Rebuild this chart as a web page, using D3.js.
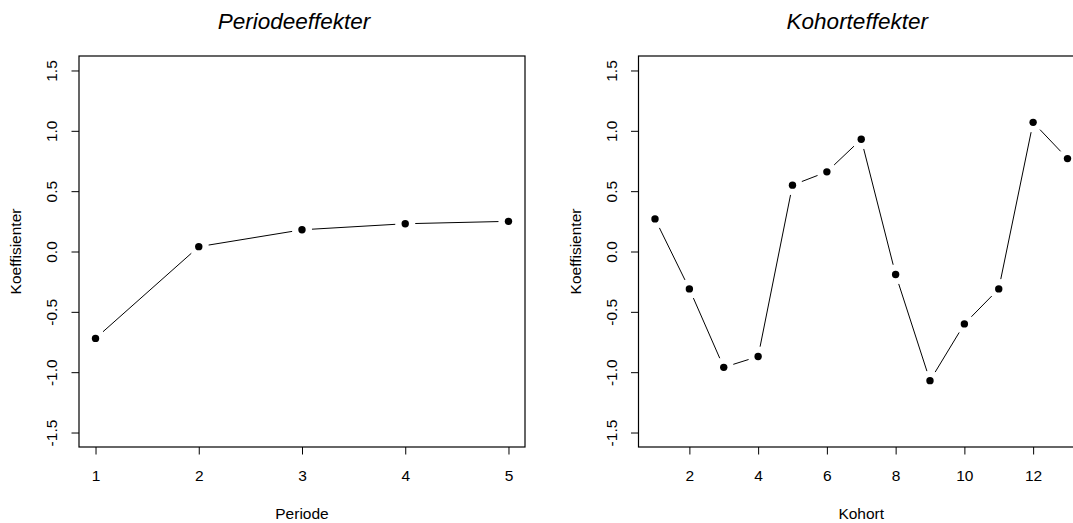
<!DOCTYPE html>
<html>
<head>
<meta charset="utf-8">
<script src="https://cdn.jsdelivr.net/npm/d3@7"></script>
<style>
  html, body { margin: 0; padding: 0; background: #fff; }
  svg { display: block; font-family: "Liberation Sans", Arial, Helvetica, sans-serif; }
</style>
</head>
<body>
<svg id="chart" width="1073" height="523"></svg>
<script>
// ---- data ----
const periods = [1, 2, 3, 4, 5];
const periodValues = [-0.72, 0.04, 0.18, 0.23, 0.25];
const cohorts = [1, 2, 3, 4, 5, 6, 7, 8, 9, 10, 11, 12, 13];
const cohortValues = [0.27, -0.31, -0.96, -0.87, 0.55, 0.66, 0.93, -0.19, -1.07, -0.60, -0.31, 1.07, 0.77];
const yTicks = [-1.5, -1.0, -0.5, 0.0, 0.5, 1.0, 1.5];
const yTickLabels = ["-1.5", "-1.0", "-0.5", "0.0", "0.5", "1.0", "1.5"];
const periodTicks = [1, 2, 3, 4, 5];
const cohortTicks = [2, 4, 6, 8, 10, 12];
const titles = ["Periodeeffekter", "Kohorteffekter"];
const xLabels = ["Periode", "Kohort"];
const yLabel = "Koeffisienter";

(function () {
const svg = d3.select("#chart");
const plotTop = 56, plotBottom = 447;
const yDomain = [-1.62, 1.62];

const panels = [
  { xs: periods, ys: periodValues, xDomain: [0.84, 5.16], range: [79, 525], ticks: periodTicks, title: titles[0], xlab: xLabels[0], titleShift: -8 },
  { xs: cohorts, ys: cohortValues, xDomain: [0.52, 13.48], range: [638.5, 1084], ticks: cohortTicks, title: titles[1], xlab: xLabels[1], titleShift: -4 }
];

panels.forEach(p => {
  const x = d3.scaleLinear().domain(p.xDomain).range(p.range);
  const y = d3.scaleLinear().domain(yDomain).range([plotBottom, plotTop]);
  const g = svg.append("g");
  const left = p.range[0], right = p.range[1];
  const cx = (left + right) / 2;

  // box
  g.append("rect")
    .attr("x", left).attr("y", plotTop)
    .attr("width", right - left).attr("height", plotBottom - plotTop)
    .attr("fill", "none").attr("stroke", "#000").attr("stroke-width", 1.2);

  // x axis
  const xAxis = g.append("g").attr("transform", `translate(0,${plotBottom})`)
    .call(d3.axisBottom(x).tickValues(p.ticks).tickSize(7.5).tickSizeOuter(0).tickFormat(d3.format("d")));
  xAxis.select(".domain").remove();
  xAxis.selectAll(".tick line").attr("stroke", "#000");
  xAxis.selectAll(".tick text")
    .attr("y", 34).attr("dy", 0)
    .attr("font-size", 15.5).attr("fill", "#000")
    .attr("font-family", "'Liberation Sans', Arial, sans-serif");

  // y axis
  const yAxis = g.append("g").attr("transform", `translate(${left},0)`)
    .call(d3.axisLeft(y).tickValues(yTicks).tickSize(7.5).tickSizeOuter(0).tickFormat((d, i) => yTickLabels[i]));
  yAxis.select(".domain").remove();
  yAxis.selectAll(".tick line").attr("stroke", "#000");
  yAxis.selectAll(".tick text")
    .attr("x", 0).attr("dy", 0)
    .attr("transform", "translate(-22,0) rotate(-90)")
    .attr("text-anchor", "middle")
    .attr("font-size", 15.5).attr("fill", "#000")
    .attr("font-family", "'Liberation Sans', Arial, sans-serif");

  // titles & labels
  g.append("text").attr("x", cx + p.titleShift).attr("y", 28.5)
    .attr("text-anchor", "middle").attr("font-size", 22.5).attr("font-style", "italic")
    .text(p.title);
  g.append("text").attr("x", cx).attr("y", 519)
    .attr("text-anchor", "middle").attr("font-size", 15.5)
    .text(p.xlab);
  g.append("text")
    .attr("transform", `translate(${left - 58},${(plotTop + plotBottom) / 2}) rotate(-90)`)
    .attr("text-anchor", "middle").attr("font-size", 15.5)
    .text(yLabel);

  // line segments with gaps (type = "b")
  const pts = p.xs.map((v, i) => [x(v), y(p.ys[i])]);
  const gap = 10;
  for (let i = 0; i < pts.length - 1; i++) {
    const [x0, y0] = pts[i], [x1, y1] = pts[i + 1];
    const dx = x1 - x0, dy = y1 - y0, len = Math.hypot(dx, dy);
    if (len <= 2 * gap) continue;
    const ux = dx / len, uy = dy / len;
    g.append("line")
      .attr("x1", x0 + ux * gap).attr("y1", y0 + uy * gap)
      .attr("x2", x1 - ux * gap).attr("y2", y1 - uy * gap)
      .attr("stroke", "#000").attr("stroke-width", 1);
  }
  g.selectAll("circle.pt").data(p.xs).enter().append("circle")
    .attr("class", "pt")
    .attr("cx", d => x(d))
    .attr("cy", (d, i) => y(p.ys[i]))
    .attr("r", 3.7).attr("fill", "#000");
});
})();
</script>
</body>
</html>
